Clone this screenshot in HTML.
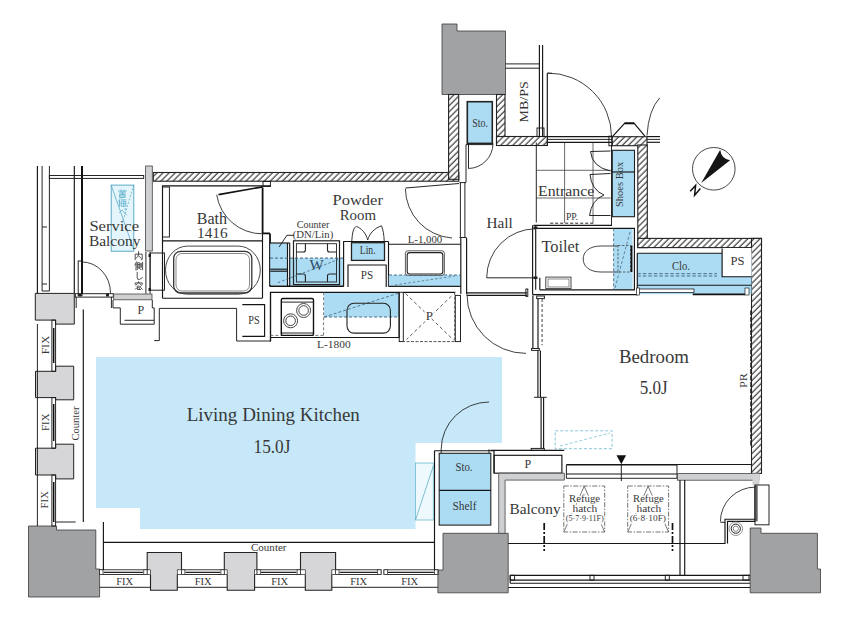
<!DOCTYPE html>
<html><head><meta charset="utf-8">
<style>
html,body{margin:0;padding:0;background:#fff;width:845px;height:626px;overflow:hidden}
svg{display:block}
text{font-family:"Liberation Serif",serif;fill:#383838}
.l{fill:none;stroke:#151515;stroke-width:1.15}
.t{fill:none;stroke:#1a1a1a;stroke-width:0.95}
.k{fill:none;stroke:#111;stroke-width:2}
.hw{fill:url(#h);stroke:#222;stroke-width:1.1}
.dp{fill:#a1a2a4;stroke:#3a3a3a;stroke-width:0.8}
.lp{fill:#d6d6d8;stroke:#222;stroke-width:1}
.gb{fill:#cfd0d2;stroke:#444;stroke-width:0.8}
.bl{fill:#c4e6f8;stroke:#222;stroke-width:1}
.bn{fill:#c6e8f9;stroke:none}
.bs{fill:#acdcf3;stroke:none}
.ds{fill:none;stroke:#555;stroke-width:0.9;stroke-dasharray:3 2}
.arc{fill:none;stroke:#2a2a2a;stroke-width:0.9}
</style></head><body>
<svg width="845" height="626" viewBox="0 0 845 626">
<defs>
<pattern id="h" patternUnits="userSpaceOnUse" width="4.3" height="4.3" patternTransform="rotate(45)">
<rect width="4.3" height="4.3" fill="#fff"/>
<line x1="1" y1="-1" x2="1" y2="6" stroke="#222" stroke-width="1.05"/>
</pattern>
</defs>

<!-- LDK blue -->
<polygon class="bn" points="96,357 502,357 502,443 415.5,443 415.5,529 140,529 140,508 96,508"/>

<!-- dark pillars -->
<polygon class="dp" points="442,24 457,24 457,31 505.5,31 505.5,94.5 442,94.5"/>
<polygon class="dp" points="28.5,526 56.5,526 56.5,530 95.8,530 95.8,569 99.6,569 99.6,597 28.5,597"/>
<polygon class="dp" points="443,533.3 508.2,533.3 508.2,592.8 437.9,592.8 437.9,570 443,570"/>
<polygon class="dp" points="750.2,528 761,528 761,533.3 817.4,533.3 817.4,569 820.5,569 820.5,592.8 750.2,592.8"/>

<!-- left light pillars -->
<polygon class="lp" points="35.3,293.4 74.3,293.4 74.3,324.1 55.6,324.1 55.6,320.1 35.3,320.1"/>
<polygon class="lp" points="35.5,371.3 55.7,371.3 55.7,366.2 73.7,366.2 73.7,399.8 55.7,399.8 55.7,397.6 35.5,397.6"/>
<polygon class="lp" points="35.5,448.2 55.7,448.2 55.7,444.2 73.7,444.2 73.7,478.9 55.7,478.9 55.7,475 35.5,475"/>
<!-- bottom light pillars -->


<!-- hatched walls -->
<rect class="hw" x="153.3" y="172.5" width="305.5" height="8.7"/>
<rect class="hw" x="448.6" y="94.5" width="10.1" height="84.8"/>
<rect class="hw" x="496.5" y="94.5" width="8.5" height="50.3"/>
<rect class="hw" x="496.5" y="136.5" width="50.8" height="9"/>
<rect class="hw" x="611.8" y="136.7" width="35.2" height="9"/>
<rect class="hw" x="637.8" y="145" width="9.5" height="102.6"/>
<rect class="hw" x="637.8" y="238.4" width="123.7" height="9.2"/>
<rect class="hw" x="751.5" y="238.4" width="10" height="235"/>


<!-- ===== service balcony / left column ===== -->
<line class="l" x1="37.4" y1="166" x2="37.4" y2="293.5"/>
<polyline class="t" points="42.1,166 42.1,291 49.4,291 49.4,166"/>
<line class="t" x1="42.1" y1="227" x2="47" y2="227"/>
<line class="t" x1="42.1" y1="284" x2="47" y2="284"/>
<line class="l" x1="74.3" y1="166" x2="74.3" y2="293.5"/>
<line class="k" x1="82" y1="166" x2="82" y2="294"/>
<rect class="t" x="49.4" y="175.5" width="94.3" height="2.9" fill="#fff"/>
<rect class="gb" x="145.6" y="166" width="6.7" height="85"/>
<rect x="111.2" y="185.1" width="22.6" height="66.1" fill="#e4f5fb" stroke="#4ea4bd" stroke-width="0.9"/>
<line x1="111.2" y1="185.1" x2="133.8" y2="249.6" stroke="#4ea4bd" stroke-width="0.7"/>
<line x1="133.8" y1="185.1" x2="122.5" y2="222" stroke="#4ea4bd" stroke-width="0.7" stroke-dasharray="2 1.5"/>
<!-- door -->
<rect class="t" x="78.2" y="261" width="3.8" height="34.6" fill="#fff"/>
<path class="arc" d="M82,262 A28.5,31 0 0 1 110.5,293"/>
<rect class="t" x="75.3" y="293.7" width="38" height="3.4" fill="#fff"/>
<rect x="78.5" y="293.5" width="3" height="3" fill="#222"/>
<rect x="106" y="293.5" width="3" height="3" fill="#222"/>
<rect class="gb" x="113.7" y="294" width="38.3" height="5.8"/>
<!-- inner window -->
<line class="t" x1="145.9" y1="252" x2="145.9" y2="293.7"/>
<line class="t" x1="150.1" y1="252" x2="150.1" y2="293.7"/>
<rect x="148.5" y="254" width="2.5" height="3" fill="#222"/>
<rect x="148.5" y="288" width="2.5" height="3" fill="#222"/>
<rect class="t" x="150.1" y="253" width="14.4" height="37.2" fill="#fff"/>
<!-- P box -->
<polyline class="t" points="113,300 113,307.9 120.3,307.9 120.3,324.2 154.2,324.2"/>
<polyline class="t" points="152.3,300 152.3,307.9 154.2,307.9 154.2,324.2"/>
<polyline class="t" points="154.2,340.6 159.3,340.6 159.3,308.4 236.6,308.4 236.6,341 270.7,341 270.7,292"/>
<line class="t" x1="124.5" y1="320.3" x2="154.2" y2="320.3"/>
<line class="t" x1="76.2" y1="297" x2="76.2" y2="308"/>
<line class="t" x1="111.4" y1="297" x2="111.4" y2="308"/>
<line class="l" x1="83.3" y1="309.4" x2="83.3" y2="522"/>
<line class="t" x1="55.5" y1="522" x2="75.7" y2="522"/>
<!-- left FIX windows -->
<line class="t" x1="37.4" y1="324" x2="37.4" y2="526"/>
<g>
<rect class="t" x="51.9" y="320.1" width="3.7" height="51.2" fill="#fff"/>
<rect class="t" x="51.9" y="397.6" width="3.7" height="50.6" fill="#fff"/>
<rect class="t" x="51.9" y="475" width="3.7" height="51" fill="#fff"/>
<line x1="53.7" y1="328" x2="53.7" y2="363" stroke="#111" stroke-width="1.5"/>
<line x1="53.7" y1="404" x2="53.7" y2="441" stroke="#111" stroke-width="1.5"/>
<line x1="53.7" y1="482" x2="53.7" y2="522" stroke="#111" stroke-width="1.5"/>
</g>
<!-- bottom window band -->
<rect x="99.6" y="569.8" width="47.6" height="4.7" fill="#fff" stroke="#222" stroke-width="0.9"/>
<line x1="103.6" y1="572.3" x2="143.2" y2="572.3" stroke="#222" stroke-width="1.2"/>
<rect x="99.6" y="569.8" width="3.4" height="4.7" fill="#fff" stroke="#222" stroke-width="0.7"/>
<rect x="143.8" y="569.8" width="3.4" height="4.7" fill="#fff" stroke="#222" stroke-width="0.7"/>
<rect x="181.5" y="569.8" width="42.8" height="4.7" fill="#fff" stroke="#222" stroke-width="0.9"/>
<line x1="185.5" y1="572.3" x2="220.3" y2="572.3" stroke="#222" stroke-width="1.2"/>
<rect x="181.5" y="569.8" width="3.4" height="4.7" fill="#fff" stroke="#222" stroke-width="0.7"/>
<rect x="220.9" y="569.8" width="3.4" height="4.7" fill="#fff" stroke="#222" stroke-width="0.7"/>
<rect x="256.9" y="569.8" width="43.6" height="4.7" fill="#fff" stroke="#222" stroke-width="0.9"/>
<line x1="260.9" y1="572.3" x2="296.5" y2="572.3" stroke="#222" stroke-width="1.2"/>
<rect x="256.9" y="569.8" width="3.4" height="4.7" fill="#fff" stroke="#222" stroke-width="0.7"/>
<rect x="297.1" y="569.8" width="3.4" height="4.7" fill="#fff" stroke="#222" stroke-width="0.7"/>
<rect x="335.6" y="569.8" width="45.4" height="4.7" fill="#fff" stroke="#222" stroke-width="0.9"/>
<line x1="339.6" y1="572.3" x2="377.0" y2="572.3" stroke="#222" stroke-width="1.2"/>
<rect x="335.6" y="569.8" width="3.4" height="4.7" fill="#fff" stroke="#222" stroke-width="0.7"/>
<rect x="377.6" y="569.8" width="3.4" height="4.7" fill="#fff" stroke="#222" stroke-width="0.7"/>
<rect x="384" y="569.8" width="53.9" height="4.7" fill="#fff" stroke="#222" stroke-width="0.9"/>
<line x1="388.0" y1="572.3" x2="433.9" y2="572.3" stroke="#222" stroke-width="1.2"/>
<rect x="384" y="569.8" width="3.4" height="4.7" fill="#fff" stroke="#222" stroke-width="0.7"/>
<rect x="434.5" y="569.8" width="3.4" height="4.7" fill="#fff" stroke="#222" stroke-width="0.7"/>
<line x1="99.6" y1="587.3" x2="150.5" y2="587.3" stroke="#222" stroke-width="1"/>
<line x1="177.3" y1="587.3" x2="227.2" y2="587.3" stroke="#222" stroke-width="1"/>
<line x1="254.6" y1="587.3" x2="305.3" y2="587.3" stroke="#222" stroke-width="1"/>
<line x1="331.8" y1="587.3" x2="437.9" y2="587.3" stroke="#222" stroke-width="1"/>
<polygon points="147.2,552.5 181.5,552.5 181.5,569.8 177.3,569.8 177.3,590.2 150.5,590.2 150.5,569.8 147.2,569.8" fill="#d6d6d8"/>
<rect x="147.2" y="569.8" width="3.3" height="4.7" fill="#fff" stroke="#222" stroke-width="0.7"/>
<rect x="177.3" y="569.8" width="4.2" height="4.7" fill="#fff" stroke="#222" stroke-width="0.7"/>
<path d="M147.2,569.8 V552.5 H181.5 V569.8 M150.5,574.5 V590.2 H177.3 V574.5" fill="none" stroke="#222" stroke-width="1.1"/>
<polygon points="224.3,552.5 256.9,552.5 256.9,569.8 254.6,569.8 254.6,590.2 227.2,590.2 227.2,569.8 224.3,569.8" fill="#d6d6d8"/>
<rect x="224.3" y="569.8" width="2.9" height="4.7" fill="#fff" stroke="#222" stroke-width="0.7"/>
<rect x="254.6" y="569.8" width="2.3" height="4.7" fill="#fff" stroke="#222" stroke-width="0.7"/>
<path d="M224.3,569.8 V552.5 H256.9 V569.8 M227.2,574.5 V590.2 H254.6 V574.5" fill="none" stroke="#222" stroke-width="1.1"/>
<polygon points="300.5,552.5 335.6,552.5 335.6,569.8 331.8,569.8 331.8,590.2 305.3,590.2 305.3,569.8 300.5,569.8" fill="#d6d6d8"/>
<rect x="300.5" y="569.8" width="4.8" height="4.7" fill="#fff" stroke="#222" stroke-width="0.7"/>
<rect x="331.8" y="569.8" width="3.8" height="4.7" fill="#fff" stroke="#222" stroke-width="0.7"/>
<path d="M300.5,569.8 V552.5 H335.6 V569.8 M305.3,574.5 V590.2 H331.8 V574.5" fill="none" stroke="#222" stroke-width="1.1"/>
<line class="l" x1="103.4" y1="522" x2="103.4" y2="570"/>
<line class="l" x1="103.4" y1="542.3" x2="434.5" y2="542.3"/>
<line class="l" x1="434.5" y1="450.7" x2="434.5" y2="570"/>
<line class="l" x1="434.5" y1="450.7" x2="494" y2="450.7"/>
<rect x="415.5" y="463" width="17.8" height="57" fill="#eef9fd" stroke="#6bbad0" stroke-width="0.8"/>
<line x1="415.5" y1="520" x2="433.3" y2="466" stroke="#4ea4bd" stroke-width="0.7"/>


<!-- ===== bath ===== -->
<polyline class="l" points="162.5,298.2 162.5,185.8 270.4,185.8"/>
<line class="l" x1="162.5" y1="298.2" x2="262.5" y2="298.2"/>
<line class="l" x1="162.5" y1="240.9" x2="262.5" y2="240.9"/>
<rect class="t" x="162.5" y="187" width="6.9" height="50"/>
<line class="l" x1="262.5" y1="233.4" x2="262.5" y2="298.2"/>
<rect class="t" x="263" y="181.5" width="7.4" height="5" fill="#fff"/>
<line x1="262.6" y1="187.5" x2="262.6" y2="233.4" stroke="#111" stroke-width="1.8"/>
<line x1="262.6" y1="233.4" x2="270" y2="233.4" stroke="#111" stroke-width="1.8"/>
<line x1="270" y1="233.4" x2="270" y2="286.5" stroke="#111" stroke-width="1.8"/>
<line x1="218.5" y1="194.7" x2="262.7" y2="186.8" stroke="#111" stroke-width="1.7"/>
<path class="arc" d="M216.7,194.7 A46,46 0 0 0 262.7,233.8"/>
<rect x="165.5" y="246.1" width="94.8" height="48.1" rx="22" ry="24" fill="none" stroke="#333" stroke-width="0.9"/>
<rect x="173.7" y="251.3" width="78.1" height="41.7" rx="7" fill="none" stroke="#333" stroke-width="1.3"/>
<rect x="176" y="253.5" width="73.5" height="37.5" rx="6" fill="none" stroke="#555" stroke-width="0.7"/>
<!-- ===== W area ===== -->
<rect class="bs" x="270.2" y="243.2" width="17.3" height="42"/>
<rect class="bs" x="289" y="258.1" width="54.5" height="27.5"/>
<line class="l" x1="287.5" y1="243" x2="287.5" y2="286"/>
<line class="l" x1="289.7" y1="243" x2="289.7" y2="286"/>
<line class="l" x1="270" y1="243" x2="289.7" y2="243"/>
<line class="l" x1="270.2" y1="269.2" x2="287.5" y2="269.2"/>
<line class="l" x1="270.2" y1="271.2" x2="287.5" y2="271.2"/>
<line x1="270" y1="286.2" x2="343.8" y2="286.2" stroke="#111" stroke-width="1.6"/>
<line class="l" x1="343.6" y1="241.2" x2="343.6" y2="286.5"/>
<rect x="293.5" y="240.8" width="46" height="43.8" fill="none" stroke="#222" stroke-width="1.2"/>
<rect x="296.4" y="243.7" width="40.1" height="38.3" fill="none" stroke="#222" stroke-width="0.9"/>
<path d="M296.4,252 h7 a2,2 0 0 0 2,-2 v-6.3 M336.5,252 h-7 a2,2 0 0 1 -2,-2 v-6.3 M296.4,274 h7 a2,2 0 0 1 2,2 v6 M336.5,274 h-7 a2,2 0 0 0 -2,2 v6" fill="none" stroke="#222" stroke-width="1.1"/>
<line x1="270" y1="258.1" x2="343.5" y2="258.1" stroke="#3f5f7a" stroke-width="1" stroke-dasharray="3 2"/>
<line x1="277.9" y1="282.7" x2="338" y2="259.6" stroke="#3f5f7a" stroke-width="0.8" stroke-dasharray="2.5 2"/>
<text x="309.5" y="269.5" font-size="15" fill="#2c4a66" style="fill:#2c4a66">W</text>
<polyline class="t" points="279.2,246.9 286.9,235.3 293.9,235.3"/>
<!-- ===== Lin / PS ===== -->
<line class="l" x1="343.4" y1="241.5" x2="388.5" y2="241.5"/>
<line class="l" x1="388.5" y1="241.5" x2="388.5" y2="286.5"/>
<rect x="351.5" y="242.7" width="33" height="17.7" fill="#acdcf3" stroke="#222" stroke-width="1.3"/>
<polyline class="l" points="348,287 348,265 386.2,265 386.2,287"/>
<path d="M351.8,241 C352.3,233 353.5,227 356.5,226.5 C361,228 366,233 367.7,240 C369.5,233 375,228 381.5,225.8 C383.2,230 384,235 384.2,241" fill="none" stroke="#333" stroke-width="1"/>
<!-- ===== counter L-1000 ===== -->
<polyline class="l" points="388.5,244.2 460.8,244.2"/>
<rect class="bs" x="388.8" y="275" width="72" height="11"/>
<line x1="388.5" y1="286.3" x2="460.8" y2="286.3" stroke="#222" stroke-width="1.2"/>
<line x1="389" y1="275" x2="460.5" y2="275" stroke="#3f5f7a" stroke-width="0.9" stroke-dasharray="3 2"/>
<line x1="395" y1="285" x2="455" y2="276" stroke="#3f5f7a" stroke-width="0.7" stroke-dasharray="2.5 2"/>
<rect x="405.4" y="250.8" width="39" height="24.5" rx="2.5" fill="#fff" stroke="#333" stroke-width="0.8"/>
<rect x="407.2" y="252.6" width="35.6" height="21.4" rx="2.5" fill="none" stroke="#222" stroke-width="1.1"/>
<path class="arc" d="M405.4,188.6 A50,50 0 0 0 452,238"/>
<line class="t" x1="460.4" y1="182.4" x2="460.4" y2="237.2"/>
<line class="t" x1="464.9" y1="182.4" x2="464.9" y2="237.2"/>
<line class="t" x1="459.5" y1="182.6" x2="466" y2="182.6"/>
<line class="t" x1="459.5" y1="237.5" x2="466.6" y2="237.5"/>
<line class="t" x1="405.6" y1="188" x2="459" y2="183.5"/>
<line class="l" x1="460.8" y1="238" x2="460.8" y2="294"/>
<line class="l" x1="466.6" y1="238" x2="466.6" y2="294"/>
<!-- ===== kitchen ===== -->
<rect class="bs" x="324.1" y="292.9" width="75" height="24.1"/>
<polyline class="l" points="270.4,341.6 270.4,292.3 399.1,292.3 399.1,337.5 270.4,337.5"/>
<line x1="270.4" y1="335.4" x2="323.4" y2="335.4" stroke="#555" stroke-width="0.8" stroke-dasharray="3 2"/>
<rect x="281.3" y="298.5" width="32.2" height="36.9" rx="1.5" fill="#fff" stroke="#111" stroke-width="1.4"/>
<line class="t" x1="281.8" y1="302.1" x2="313" y2="302.1"/>
<line class="t" x1="281.8" y1="333" x2="313" y2="333"/>
<circle cx="303.6" cy="310.5" r="7" fill="none" stroke="#333" stroke-width="0.9"/>
<circle cx="303.6" cy="310.5" r="4.8" fill="none" stroke="#333" stroke-width="0.9"/>
<circle cx="290.6" cy="320.8" r="7" fill="none" stroke="#333" stroke-width="0.9"/>
<circle cx="290.6" cy="320.8" r="4.8" fill="none" stroke="#333" stroke-width="0.9"/>
<line x1="324.1" y1="317" x2="399.1" y2="317" stroke="#3f5f7a" stroke-width="0.9" stroke-dasharray="3 2"/>
<line x1="324.1" y1="317" x2="399.1" y2="293" stroke="#3f5f7a" stroke-width="0.8" stroke-dasharray="3 2"/>
<line x1="323.6" y1="292.3" x2="323.6" y2="335.4" stroke="#555" stroke-width="0.8" stroke-dasharray="3 2"/>
<rect x="347" y="303.3" width="43.4" height="29.8" rx="7" fill="none" stroke="#222" stroke-width="1.1"/>
<rect class="t" x="399.2" y="292.3" width="4.1" height="49.3" fill="#fff"/>
<rect class="t" x="455.3" y="295.4" width="5.2" height="46.2" fill="#fff"/>
<line class="l" x1="403.3" y1="292.3" x2="455.3" y2="292.3"/>
<path d="M454.7,292.3 V341.6 H403.3" fill="none" stroke="#555" stroke-width="1" stroke-dasharray="3 1.5"/>
<line x1="405.5" y1="293.5" x2="453.5" y2="340" stroke="#333" stroke-width="0.8" stroke-dasharray="3.5 2.5"/>
<line x1="451.5" y1="296" x2="406.5" y2="339.5" stroke="#333" stroke-width="0.8" stroke-dasharray="3.5 2.5"/>



<polyline class="l" points="242.3,304.6 264.6,304.6 264.6,336.4 242.3,336.4"/>
<!-- ===== hall / entrance ===== -->
<rect x="467.3" y="101.7" width="25" height="41.7" fill="#acdcf3" stroke="#222" stroke-width="1.6"/>
<path class="arc" d="M493,143.4 A25,25 0 0 1 468.5,168.5"/>
<line class="t" x1="468.5" y1="143.4" x2="468.5" y2="168.5"/>
<line class="t" x1="505.5" y1="63.9" x2="539.4" y2="63.9"/>
<line class="t" x1="505.5" y1="68.2" x2="539.4" y2="68.2"/>
<line class="l" x1="539.4" y1="45.1" x2="539.4" y2="136.5"/>
<line class="l" x1="542.6" y1="45.1" x2="542.6" y2="136.5"/>
<rect class="t" x="537" y="128" width="7" height="8.5" fill="#fff"/>
<line class="l" x1="547.3" y1="73.3" x2="547.3" y2="136.5"/>
<line class="t" x1="547.3" y1="73.3" x2="552" y2="73.3"/>
<path class="arc" d="M547.3,73 A64,63.5 0 0 1 611.5,136.5"/>
<line class="l" x1="547.3" y1="136.6" x2="611.8" y2="136.6"/>
<line class="t" x1="547.3" y1="139.4" x2="611.8" y2="139.4"/>
<line class="l" x1="547.3" y1="142.3" x2="611.8" y2="142.3"/>
<rect class="t" x="608.9" y="136.2" width="3.3" height="9.6" fill="#fff"/>
<line class="t" x1="547.3" y1="136.9" x2="547.3" y2="145.5"/>
<polyline class="l" points="612.9,136.1 624.6,123.3 634.2,123.3 644.9,136.1"/>
<line x1="624.6" y1="123.3" x2="634.2" y2="123.3" stroke="#111" stroke-width="2"/>
<path class="arc" d="M647,135.5 Q648.5,110 659.8,97.8"/>
<line class="l" x1="647" y1="136.6" x2="660" y2="136.6"/>
<line class="t" x1="647" y1="139.4" x2="660" y2="139.4"/>
<line class="l" x1="647" y1="142.3" x2="660" y2="142.3"/>
<!-- entrance tiles -->
<g stroke="#444" stroke-width="0.8">
<line x1="564.6" y1="142.5" x2="564.6" y2="223"/>
<line x1="593" y1="142.5" x2="593" y2="223"/>
<line x1="536.5" y1="170.3" x2="610.6" y2="170.3"/>
<line x1="536.5" y1="198" x2="610.6" y2="198"/>
</g>
<line class="t" x1="536.3" y1="142.5" x2="536.3" y2="222.4"/>
<line x1="550.2" y1="223.2" x2="593.8" y2="223.2" stroke="#222" stroke-width="1" stroke-dasharray="3 2"/>
<line class="l" x1="533.4" y1="225.3" x2="612" y2="225.3"/>
<line class="t" x1="611.5" y1="145" x2="611.5" y2="225.3"/>
<!-- shoes box -->
<rect x="612.3" y="150.3" width="22.2" height="66.4" fill="#acdcf3" stroke="#222" stroke-width="1.1"/>
<line class="l" x1="612.3" y1="172" x2="634.5" y2="172"/>
<path class="t" d="M610.5,151 L590.5,151.5 Q592,167 610.5,171 M610.5,173.5 L590,174.5 Q591.5,190 604,195 Q591.5,200 589.5,215.5 L610.5,215.5"/>
<!-- hall left wall -->
<line class="t" x1="466" y1="144.5" x2="466" y2="182.4"/>
<line class="t" x1="466" y1="144.6" x2="493" y2="144.6"/>
<!-- toilet -->
<rect class="bs" x="613.6" y="228.3" width="19" height="61.5"/>
<polyline class="l" points="535.7,228.3 634.4,228.3 634.4,289.8 539.8,289.8"/>
<line class="l" x1="532.6" y1="294.6" x2="637.5" y2="294.6"/>
<line class="l" x1="535.7" y1="225.3" x2="535.7" y2="289.8"/>
<line class="l" x1="532.6" y1="225.3" x2="532.6" y2="294.6"/>
<line class="l" x1="539.8" y1="277.8" x2="539.8" y2="289.8"/>
<line x1="613.6" y1="228.3" x2="613.6" y2="289.8" stroke="#3f5f7a" stroke-width="0.8" stroke-dasharray="3 2"/>
<line x1="630" y1="232" x2="615" y2="288" stroke="#3f5f7a" stroke-width="0.7" stroke-dasharray="3 2"/>
<path d="M618,246 L601,246 C589,246 583.2,252 583.2,259 C583.2,266 589,272 601,272 L618,272" fill="none" stroke="#333" stroke-width="0.9"/>
<rect x="618" y="245.5" width="12.5" height="26.5" fill="none" stroke="#333" stroke-width="0.7" stroke-dasharray="2.5 1.5"/>
<line x1="631.5" y1="245.5" x2="631.5" y2="272" stroke="#111" stroke-width="1.8"/>
<rect x="545.8" y="277.1" width="25.2" height="11.5" fill="none" stroke="#333" stroke-width="0.9"/>
<rect x="548" y="279" width="21" height="8" fill="none" stroke="#444" stroke-width="0.6"/>
<path class="arc" d="M535.7,228.8 A49,49 0 0 0 486.7,277.8"/>
<line class="t" x1="486.7" y1="277.8" x2="535.7" y2="277.8"/>
<rect x="533.5" y="226.5" width="4" height="2.5" fill="#222"/>
<rect x="533.5" y="276.5" width="4" height="2.5" fill="#222"/>
<!-- hall bottom / bedroom left wall -->
<line class="l" x1="466.7" y1="292.9" x2="527.1" y2="292.9"/>
<line class="l" x1="466.7" y1="295.4" x2="527.1" y2="295.4"/>
<rect class="t" x="525.9" y="289" width="1.9" height="7.4" fill="#fff"/>
<path class="arc" d="M467,294.4 A59,59 0 0 0 526,353.4"/>
<line class="l" x1="532.9" y1="295.4" x2="532.9" y2="348.5"/>
<line class="l" x1="538" y1="298.6" x2="538" y2="348.5"/>
<line x1="542.1" y1="299" x2="542.1" y2="345.3" stroke="#333" stroke-width="0.9" stroke-dasharray="3 2"/>
<rect class="t" x="536.7" y="296" width="7.7" height="2.6" fill="#fff"/>
<rect class="t" x="531.6" y="348.5" width="7.7" height="1.9" fill="#fff"/>
<line class="l" x1="537.9" y1="350.4" x2="537.9" y2="397.3"/>
<line class="l" x1="540.4" y1="350.4" x2="540.4" y2="397.3"/>
<line class="l" x1="541.1" y1="397.3" x2="541.1" y2="448.4"/>
<line class="l" x1="543.6" y1="397.3" x2="543.6" y2="448.4"/>
<line class="t" x1="534" y1="397.3" x2="546.8" y2="397.3"/>
<rect class="t" x="531.2" y="448.4" width="13.1" height="1.9" fill="#fff"/>
<rect x="555.2" y="430.8" width="56.9" height="17.9" fill="none" stroke="#7cc0d6" stroke-width="0.9" stroke-dasharray="3 2"/>
<line x1="560" y1="446" x2="610" y2="433" stroke="#7cc0d6" stroke-width="0.8" stroke-dasharray="3 2"/>
<!-- sto/shelf bottom -->
<rect x="439.2" y="453.3" width="51.6" height="71.8" fill="#acdcf3" stroke="#222" stroke-width="1.1"/>
<line class="l" x1="439.2" y1="490.4" x2="490.8" y2="490.4"/>
<path class="arc" d="M441.2,449.3 A48,47.5 0 0 1 489.1,402"/>
<line class="t" x1="441.2" y1="449.3" x2="441.2" y2="453.3"/>
<line class="t" x1="489" y1="449.3" x2="489" y2="453.3"/>
<line class="l" x1="494" y1="450.7" x2="494" y2="473"/>
<line class="l" x1="490.7" y1="450.3" x2="564.2" y2="450.3"/>
<rect class="l" x="494.1" y="455.3" width="67.8" height="17.9" fill="#fff"/>
<polygon class="gb" points="498.7,473.2 564.4,473.2 564.4,480.1 505.1,480.1 505.1,533.3 498.7,533.3"/>


<!-- ===== clo ===== -->
<rect class="bs" x="637.3" y="253.2" width="114.2" height="32"/>
<rect x="637.3" y="285.2" width="114.2" height="9" fill="#acdcf3"/>
<line class="l" x1="637.3" y1="253.2" x2="722.1" y2="253.2"/>
<line class="l" x1="637.3" y1="253.2" x2="637.3" y2="294.6"/>
<rect x="722.1" y="248" width="29.4" height="28.7" fill="#fff"/>
<polyline class="l" points="722.1,248.6 722.1,276.7 751.5,276.7"/>
<line x1="637.3" y1="273.7" x2="717" y2="273.7" stroke="#3f5f7a" stroke-width="0.9" stroke-dasharray="3.5 2"/>
<line x1="637.3" y1="276" x2="717" y2="276" stroke="#3f5f7a" stroke-width="0.9" stroke-dasharray="3.5 2"/>
<line class="l" x1="637.3" y1="285.2" x2="751.5" y2="285.2"/>
<rect x="638" y="289" width="56" height="3.4" fill="#fff" stroke="#222" stroke-width="0.8"/>
<line x1="692.7" y1="294.3" x2="745.1" y2="294.3" stroke="#111" stroke-width="1.8"/>
<rect x="745" y="288" width="4" height="7" fill="#fff" stroke="#222" stroke-width="0.7"/>
<rect x="636.5" y="288" width="3" height="7" fill="#fff" stroke="#222" stroke-width="0.7"/>
<line x1="751" y1="310.4" x2="751" y2="446.2" stroke="#222" stroke-width="1.6" stroke-dasharray="5 1.5"/>
<!-- ===== bedroom bottom / balcony ===== -->
<line class="l" x1="566.4" y1="464.8" x2="677" y2="464.8"/>
<line class="l" x1="566.4" y1="474" x2="677" y2="474"/>
<line class="t" x1="566.4" y1="478.3" x2="677" y2="478.3"/>
<line class="t" x1="566.4" y1="464.8" x2="566.4" y2="478.3"/>
<line class="t" x1="677" y1="464.8" x2="677" y2="478.3"/>
<line x1="621.3" y1="464.8" x2="621.3" y2="481" stroke="#222" stroke-width="1"/>
<polygon points="616.5,455.3 626.1,455.3 621.3,464.3" fill="#111"/>
<rect class="gb" x="677.4" y="473.6" width="81.5" height="6.6"/>
<rect x="752.4" y="473.6" width="7" height="11.6" fill="#d2d3d5"/>
<line class="l" x1="680" y1="480" x2="680" y2="575"/>
<line class="l" x1="684.7" y1="480" x2="684.7" y2="575"/>
<!-- refuge hatches -->
<g fill="none" stroke="#666" stroke-width="0.9" stroke-dasharray="5 1.5 1.5 1.5">
<rect x="563.8" y="486" width="40.9" height="46"/>
<rect x="627.7" y="486" width="40.9" height="46"/>
</g>
<polyline points="563.8,532 584.2,486.3 604.7,532" fill="none" stroke="#555" stroke-width="0.8"/>
<polyline points="627.7,532 648.1,486.3 668.6,532" fill="none" stroke="#555" stroke-width="0.8"/>
<line x1="544.2" y1="523" x2="544.2" y2="551" stroke="#111" stroke-width="1.7" stroke-dasharray="7 2 2 2"/>
<line x1="672.5" y1="523" x2="672.5" y2="551" stroke="#111" stroke-width="1.7" stroke-dasharray="7 2 2 2"/>
<polyline class="l" points="508.2,543.5 725,543.5 725,519.2 755.3,519.2"/>
<polyline class="l" points="727.5,543.5 727.5,521.3 755.3,521.3"/>
<line class="t" x1="720.4" y1="522.3" x2="725" y2="522.3"/>
<line class="l" x1="566.7" y1="464.5" x2="751.6" y2="464.5"/>
<line class="l" x1="510.2" y1="575.3" x2="750" y2="575.3"/>
<line class="l" x1="510.2" y1="580.1" x2="750" y2="580.1"/>
<line class="l" x1="510.2" y1="583.2" x2="750" y2="583.2"/>
<line class="l" x1="508.5" y1="587.5" x2="750" y2="587.5"/>
<line class="l" x1="510.2" y1="575.3" x2="510.2" y2="583.2"/>
<rect class="t" x="510.2" y="575.3" width="4.4" height="4.8" fill="#fff"/>
<rect class="t" x="590" y="575.3" width="4" height="4.8" fill="#fff"/>
<rect class="t" x="665.3" y="575.3" width="4" height="4.8" fill="#fff"/>
<rect class="t" x="743" y="575.3" width="6" height="4.8" fill="#fff"/>
<!-- balcony door -->
<rect class="t" x="755" y="485" width="14" height="39.8" fill="#fff"/>
<line class="l" x1="755" y1="485.5" x2="755" y2="521.3"/>
<line class="l" x1="756.9" y1="485.5" x2="756.9" y2="521.3"/>
<path class="arc" d="M755.5,487.1 A35,34.5 0 0 0 720.4,521.6"/>
<circle cx="735.8" cy="528.7" r="6.8" fill="none" stroke="#777" stroke-width="0.8"/>
<circle cx="735.8" cy="528.7" r="4.6" fill="none" stroke="#222" stroke-width="1"/>
<circle cx="735.8" cy="528.7" r="2.6" fill="none" stroke="#555" stroke-width="0.7"/>
<!-- compass -->
<circle cx="713.8" cy="168.8" r="21.3" fill="none" stroke="#333" stroke-width="0.9"/>
<path d="M701.2,183 L720.2,149.8 Q721.2,158.8 730.1,160.3 Z" fill="#151515"/>
<path d="M690.2,191.2 L695.6,185.4 L694.6,195.2 L700.4,188.6" fill="none" stroke="#111" stroke-width="1.5" stroke-linejoin="miter"/>
<!-- japanese glyphs -->
<g fill="none" stroke="#333" stroke-width="0.85" stroke-linecap="round">
<g transform="translate(134.6,251.5)">
<path d="M4,0 V2.5 M0.6,8.2 V2.6 H7.6 V8 L6.6,8.2 M4,2.8 Q3.6,5.3 1.6,6.8 M4.2,4.6 L6.4,6.6"/>
</g>
<g transform="translate(134.6,261.8)">
<path d="M2,0 L0.4,3.2 M1.4,2 V8.4 M3,1 H5.4 V6 H3 Z M3,2.7 H5.4 M3,4.3 H5.4 M3.4,6.4 L2.6,7.8 M5,6.4 L5.8,7.6 M6.7,1.5 V5.5 M8,0.4 V8 L7.2,7.6"/>
</g>
<g transform="translate(134.6,271.8)">
<path d="M2.6,0.4 V6 Q2.6,8.2 5,7.6 L7.8,5.8"/>
</g>
<g transform="translate(134.6,281.7)">
<path d="M4,0 V1 M0.6,2.6 V1.2 H7.6 V2.6 M3,1.8 L1.2,3.6 M5,1.8 L7,3.6 M3.6,3.8 L2.2,5.4 H6 M5.2,4.6 L6.2,5.4 M1,7.4 L1.6,6.6 M2.8,6.2 V7.8 H6 M4.2,6.2 L4.7,6.9 M6.6,6.4 L7.6,7.6"/>
</g>
</g>
<g fill="none" stroke="#5aaecb" stroke-width="0.8" stroke-linecap="round">
<g transform="translate(118.5,190)">
<path d="M0,1 H8 M2.5,0 V2 M5.5,0 V2 M1,3 H7 M4,2 V4.5 M1.5,4.5 H6.5 V7.5 H1.5 Z M1.5,6 H6.5"/>
</g>
<g transform="translate(118.5,199)">
<path d="M1.5,0 L0.3,2.5 M1,1.5 V7.5 M2.8,0.8 H7.5 M3,2.2 H7.3 V7.3 H3 Z M3,4.7 H7.3 M5.2,2.2 V7.3"/>
</g>
<g transform="translate(119,208.5)">
<path d="M0.5,4 L3,1.5 L7.5,6.5 M5.5,0.5 L6.3,1.4 M6.6,0 L7.4,0.9"/>
</g>
</g>
<!-- text labels -->
<g style="font-family:'Liberation Serif',serif" fill="#363636">
<text x="186.7" y="420.7" font-size="18.5" textLength="173.2" lengthAdjust="spacingAndGlyphs" fill="#24313e">Living Dining Kitchen</text>
<text x="253.5" y="452.8" font-size="19" textLength="37" lengthAdjust="spacingAndGlyphs" fill="#24313e">15.0J</text>
<text x="618.9" y="362.6" font-size="18.3" textLength="70.1" lengthAdjust="spacingAndGlyphs">Bedroom</text>
<text x="639.7" y="394.4" font-size="19.5" textLength="28" lengthAdjust="spacingAndGlyphs">5.0J</text>
<text x="89.4" y="230.7" font-size="15.3" textLength="49.7" lengthAdjust="spacingAndGlyphs">Service</text>
<text x="88.9" y="245.5" font-size="15.3" textLength="51.5" lengthAdjust="spacingAndGlyphs">Balcony</text>
<text x="196.8" y="223.6" font-size="16" textLength="30.2" lengthAdjust="spacingAndGlyphs">Bath</text>
<text x="197" y="237.8" font-size="14.5" textLength="30.5" lengthAdjust="spacingAndGlyphs">1416</text>
<text x="332.5" y="204.5" font-size="14.7" textLength="50.4" lengthAdjust="spacingAndGlyphs">Powder</text>
<text x="339.7" y="219.5" font-size="14.8" textLength="36.4" lengthAdjust="spacingAndGlyphs">Room</text>
<text x="296.7" y="228" font-size="10.9" textLength="32.6" lengthAdjust="spacingAndGlyphs" fill="#444">Counter</text>
<text x="292.8" y="237.7" font-size="10.9" textLength="40.4" lengthAdjust="spacingAndGlyphs" fill="#444">(DN/Lin)</text>
<text x="538" y="195.6" font-size="15" textLength="56.3" lengthAdjust="spacingAndGlyphs">Entrance</text>
<text x="565.9" y="219.7" font-size="10.7" textLength="12.1" lengthAdjust="spacingAndGlyphs">PP.</text>
<text x="486.4" y="227.8" font-size="15.5" textLength="26.3" lengthAdjust="spacingAndGlyphs" fill="#444">Hall</text>
<text x="541.4" y="251.7" font-size="16.5" textLength="38" lengthAdjust="spacingAndGlyphs">Toilet</text>
<text x="509.5" y="514" font-size="15" textLength="51.1" lengthAdjust="spacingAndGlyphs">Balcony</text>
<text x="407.7" y="242.7" font-size="10.5" textLength="34.6" lengthAdjust="spacingAndGlyphs" fill="#555">L-1,000</text>
<text x="317.1" y="348" font-size="10.5" textLength="33.6" lengthAdjust="spacingAndGlyphs" fill="#555">L-1800</text>
<text x="251" y="551" font-size="10.5" textLength="35.5" lengthAdjust="spacingAndGlyphs" fill="#555">Counter</text>
<text x="359.7" y="253.5" font-size="11.5" textLength="16" lengthAdjust="spacingAndGlyphs" fill="#1f3550">Lin.</text>
<text x="360.8" y="278.8" font-size="12" textLength="12.3" lengthAdjust="spacingAndGlyphs" fill="#444">PS</text>
<text x="248.3" y="323.9" font-size="12" textLength="11.4" lengthAdjust="spacingAndGlyphs" fill="#444">PS</text>
<text x="425.8" y="320.3" font-size="13" fill="#444" style="paint-order:stroke" stroke="#fff" stroke-width="3">P</text>
<text x="137.4" y="313.8" font-size="12" fill="#444">P</text>
<text x="472.3" y="126.5" font-size="12" textLength="15.7" lengthAdjust="spacingAndGlyphs" fill="#1f3550">Sto.</text>
<text x="455.5" y="470.5" font-size="11.5" textLength="17" lengthAdjust="spacingAndGlyphs" fill="#1f3550">Sto.</text>
<text x="452.5" y="509.5" font-size="11.5" textLength="24" lengthAdjust="spacingAndGlyphs" fill="#1f3550">Shelf</text>
<text x="524.5" y="468" font-size="12" fill="#444">P</text>
<text x="672" y="270" font-size="11.5" textLength="18" lengthAdjust="spacingAndGlyphs" fill="#1f3550">Clo.</text>
<text x="730.5" y="265" font-size="12.5" textLength="14" lengthAdjust="spacingAndGlyphs" fill="#444">PS</text>
<g fill="#555" font-size="10.5">
<text x="116.2" y="584.8" font-size="11" textLength="17" lengthAdjust="spacingAndGlyphs">FIX</text>
<text x="194.7" y="584.8" font-size="11" textLength="17" lengthAdjust="spacingAndGlyphs">FIX</text>
<text x="271.2" y="584.8" font-size="11" textLength="17" lengthAdjust="spacingAndGlyphs">FIX</text>
<text x="350.2" y="584.8" font-size="11" textLength="17" lengthAdjust="spacingAndGlyphs">FIX</text>
<text x="401.2" y="584.8" font-size="11" textLength="17" lengthAdjust="spacingAndGlyphs">FIX</text>
<text transform="translate(48.7,354.3) rotate(-90)" font-size="11" textLength="18.5" lengthAdjust="spacingAndGlyphs">FIX</text>
<text transform="translate(48.7,431) rotate(-90)" font-size="11" textLength="17.5" lengthAdjust="spacingAndGlyphs">FIX</text>
<text transform="translate(48.3,508.4) rotate(-90)" font-size="11" textLength="17.3" lengthAdjust="spacingAndGlyphs">FIX</text>
<text transform="translate(79,440.5) rotate(-90)" textLength="34" lengthAdjust="spacingAndGlyphs">Counter</text>
<text transform="translate(747,388) rotate(-90)" textLength="15" lengthAdjust="spacingAndGlyphs">PR</text>
</g>
<text transform="translate(527.6,122.5) rotate(-90)" font-size="13.5" textLength="41.3" lengthAdjust="spacingAndGlyphs" fill="#444">MB/PS</text>
<text transform="translate(622.6,207) rotate(-90)" font-size="10.7" textLength="45.3" lengthAdjust="spacingAndGlyphs" fill="#1f3550">Shoes Box</text>
<g fill="#444" font-size="11" style="paint-order:stroke" stroke="#fff" stroke-width="2.6">
<text x="569" y="502.2" textLength="31.1" lengthAdjust="spacingAndGlyphs">Refuge</text>
<text x="572.5" y="511.8" textLength="24.7" lengthAdjust="spacingAndGlyphs">hatch</text>
<text x="565.7" y="521.4" font-size="8" textLength="38.1" lengthAdjust="spacingAndGlyphs">(5·7·9·11F)</text>
<text x="633.1" y="502.2" textLength="30.6" lengthAdjust="spacingAndGlyphs">Refuge</text>
<text x="636.5" y="511.8" textLength="24.7" lengthAdjust="spacingAndGlyphs">hatch</text>
<text x="629.7" y="521.4" font-size="8" textLength="36.3" lengthAdjust="spacingAndGlyphs">(6·8·10F)</text>
</g>
</g>
</svg>
</body></html>
